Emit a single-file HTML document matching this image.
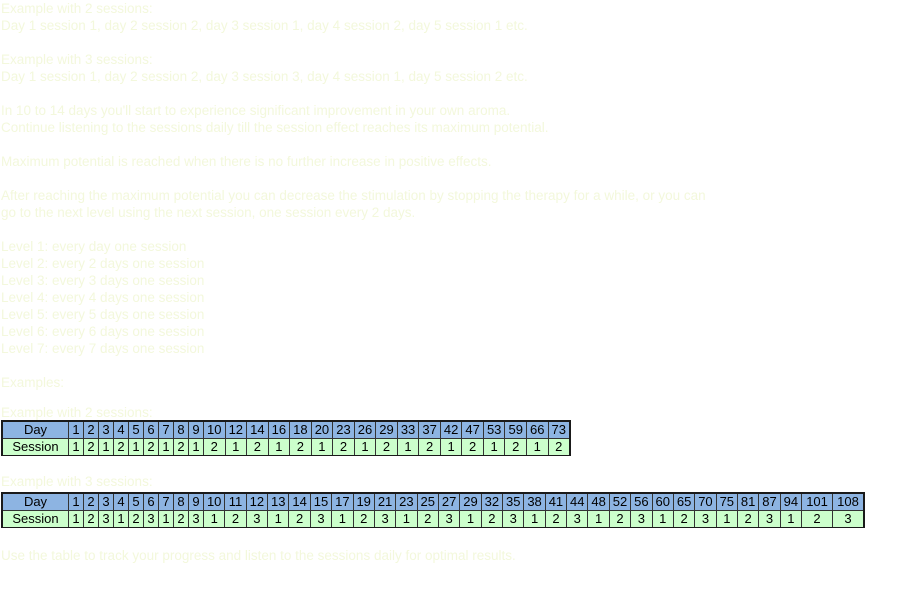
<!DOCTYPE html>
<html><head><meta charset="utf-8">
<style>
body{margin:0;width:901px;height:599px;background:#fff;position:relative;overflow:hidden;font-family:"Liberation Sans",sans-serif}
.t{position:absolute;left:1px;font-size:13.5px;color:#f3f8dc;white-space:nowrap;line-height:17px}
.tb{position:absolute;left:1px;border:2px solid #1a1a1a;box-sizing:border-box;font-size:13px;color:#000}
.r{display:flex;height:16px;line-height:16px}
.r+.r{border-top:1px solid #333}
.r div{text-align:center;border-left:1px solid #333;box-sizing:border-box;overflow:hidden}
.r div:first-child{border-left:none;width:65px;flex:none}
.d{background:#8db4e2}.s{background:#ccffcc}
.r div.a{width:15px;flex:none}
.r div.b{flex:21.4 1 0}
.r div.c{flex:31.5 1 0}
</style></head><body>
<div class="t" style="top:0">Example with 2 sessions:</div>
<div class="t" style="top:17px">Day 1 session 1, day 2 session 2, day 3 session 1, day 4 session 2, day 5 session 1 etc.</div>
<div class="t" style="top:51px">Example with 3 sessions:</div>
<div class="t" style="top:68px">Day 1 session 1, day 2 session 2, day 3 session 3, day 4 session 1, day 5 session 2 etc.</div>
<div class="t" style="top:102px">In 10 to 14 days you'll start to experience significant improvement in your own aroma.</div>
<div class="t" style="top:119px">Continue listening to the sessions daily till the session effect reaches its maximum potential.</div>
<div class="t" style="top:153px">Maximum potential is reached when there is no further increase in positive effects.</div>
<div class="t" style="top:187px">After reaching the maximum potential you can decrease the stimulation by stopping the therapy for a while, or you can</div>
<div class="t" style="top:204px">go to the next level using the next session, one session every 2 days.</div>
<div class="t" style="top:238px">Level 1: every day one session</div>
<div class="t" style="top:255px">Level 2: every 2 days one session</div>
<div class="t" style="top:272px">Level 3: every 3 days one session</div>
<div class="t" style="top:289px">Level 4: every 4 days one session</div>
<div class="t" style="top:306px">Level 5: every 5 days one session</div>
<div class="t" style="top:323px">Level 6: every 6 days one session</div>
<div class="t" style="top:340px">Level 7: every 7 days one session</div>
<div class="t" style="top:374px">Examples:</div>
<div class="t" style="top:404px">Example with 2 sessions:</div>
<div class="t" style="top:473px">Example with 3 sessions:</div>
<div class="t" style="top:547px">Use the table to track your progress and listen to the sessions daily for optimal results.</div>

<div class="tb" style="top:420px;width:570px;height:36px">
<div class="r d"><div>Day</div><div class="a">1</div><div class="a">2</div><div class="a">3</div><div class="a">4</div><div class="a">5</div><div class="a">6</div><div class="a">7</div><div class="a">8</div><div class="a">9</div><div class="b">10</div><div class="b">12</div><div class="b">14</div><div class="b">16</div><div class="b">18</div><div class="b">20</div><div class="b">23</div><div class="b">26</div><div class="b">29</div><div class="b">33</div><div class="b">37</div><div class="b">42</div><div class="b">47</div><div class="b">53</div><div class="b">59</div><div class="b">66</div><div class="b">73</div></div>
<div class="r s"><div>Session</div><div class="a">1</div><div class="a">2</div><div class="a">1</div><div class="a">2</div><div class="a">1</div><div class="a">2</div><div class="a">1</div><div class="a">2</div><div class="a">1</div><div class="b">2</div><div class="b">1</div><div class="b">2</div><div class="b">1</div><div class="b">2</div><div class="b">1</div><div class="b">2</div><div class="b">1</div><div class="b">2</div><div class="b">1</div><div class="b">2</div><div class="b">1</div><div class="b">2</div><div class="b">1</div><div class="b">2</div><div class="b">1</div><div class="b">2</div></div>
</div>

<div class="tb" style="top:492px;width:864px;height:36px">
<div class="r d"><div>Day</div><div class="a">1</div><div class="a">2</div><div class="a">3</div><div class="a">4</div><div class="a">5</div><div class="a">6</div><div class="a">7</div><div class="a">8</div><div class="a">9</div><div class="b">10</div><div class="b">11</div><div class="b">12</div><div class="b">13</div><div class="b">14</div><div class="b">15</div><div class="b">17</div><div class="b">19</div><div class="b">21</div><div class="b">23</div><div class="b">25</div><div class="b">27</div><div class="b">29</div><div class="b">32</div><div class="b">35</div><div class="b">38</div><div class="b">41</div><div class="b">44</div><div class="b">48</div><div class="b">52</div><div class="b">56</div><div class="b">60</div><div class="b">65</div><div class="b">70</div><div class="b">75</div><div class="b">81</div><div class="b">87</div><div class="b">94</div><div class="c">101</div><div class="c">108</div></div>
<div class="r s"><div>Session</div><div class="a">1</div><div class="a">2</div><div class="a">3</div><div class="a">1</div><div class="a">2</div><div class="a">3</div><div class="a">1</div><div class="a">2</div><div class="a">3</div><div class="b">1</div><div class="b">2</div><div class="b">3</div><div class="b">1</div><div class="b">2</div><div class="b">3</div><div class="b">1</div><div class="b">2</div><div class="b">3</div><div class="b">1</div><div class="b">2</div><div class="b">3</div><div class="b">1</div><div class="b">2</div><div class="b">3</div><div class="b">1</div><div class="b">2</div><div class="b">3</div><div class="b">1</div><div class="b">2</div><div class="b">3</div><div class="b">1</div><div class="b">2</div><div class="b">3</div><div class="b">1</div><div class="b">2</div><div class="b">3</div><div class="b">1</div><div class="c">2</div><div class="c">3</div></div>
</div>
</body></html>
